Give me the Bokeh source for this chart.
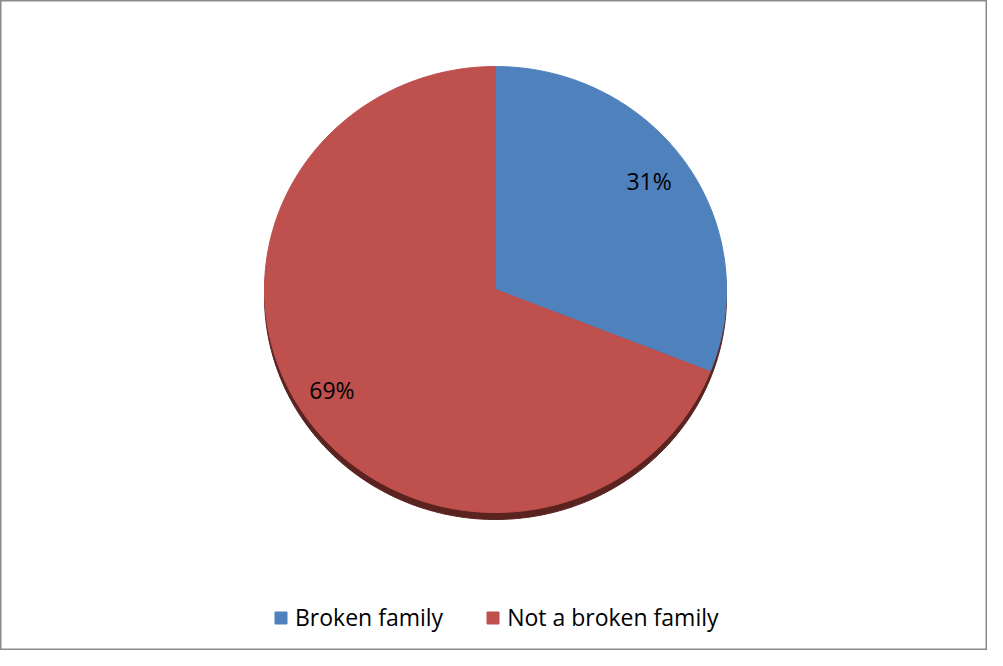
import numpy as np
from bokeh.plotting import figure
from bokeh.models import Range1d, ColumnDataSource, Legend, LegendItem
from bokeh.core.properties import value
from bokeh.embed import file_html
from bokeh.resources import INLINE

categories = ["Broken family", "Not a broken family"]
shares = [31, 69]
colors = ["#4F81BD", "#BE504D"]
label_texts = ["31%", "69%"]

W, H = 987, 650
p = figure(width=W, height=H, output_backend="svg", toolbar_location=None,
           x_range=Range1d(0, W), y_range=Range1d(H, 0), min_border=0)
p.axis.visible = False
p.grid.visible = False
p.outline_line_color = "#8A8A8A"
p.outline_line_width = 2
p.background_fill_color = "white"

cx, cy, rx, ry = 495, 289, 231, 223
depth = 7

# shadow / side of the 3D pie
t = np.linspace(0, 2 * np.pi, 400)
p.patch(cx + rx * np.cos(t), cy + depth - ry * np.sin(t), fill_color="#5A2320",
        line_color="#5A2320", line_width=1)

total = float(sum(shares))
start = 90.0
xs, ys, lx, ly = [], [], [], []
for v in shares:
    sweep = 360.0 * v / total
    a = np.radians(np.linspace(start, start - sweep, 200))
    xs.append([cx] + list(cx + rx * np.cos(a)) + [cx])
    ys.append([cy] + list(cy - ry * np.sin(a)) + [cy])
    mid = np.radians(start - sweep / 2)
    lx.append(cx + 0.83 * rx * np.cos(mid) - 5)
    ly.append(cy - 0.83 * ry * np.sin(mid) - 4)
    start -= sweep

src = ColumnDataSource(dict(xs=xs, ys=ys, color=colors, name=categories))
p.patches("xs", "ys", fill_color="color", line_color="color", line_width=1, source=src)

p.text(x=lx, y=ly, text=label_texts, text_font=value("Open Sans"), text_font_size="23px",
       text_align="center", text_baseline="middle", text_color="black")

# legend
items = []
for i, c in enumerate(categories):
    r = p.rect(x=[-100], y=[-100], width=1, height=1, fill_color=colors[i],
               line_color=colors[i])
    items.append(LegendItem(label=c, renderers=[r]))
legend = Legend(items=items, orientation="horizontal", location=(273, 17),
                label_text_font="Open Sans", label_text_font_size="23px",
                label_text_color="black",
                glyph_width=15, glyph_height=15, spacing=42, label_standoff=7,
                border_line_color=None, background_fill_alpha=0, padding=0, margin=0)
p.add_layout(legend, "center")

open("out.html", "w").write(file_html(p, INLINE))
